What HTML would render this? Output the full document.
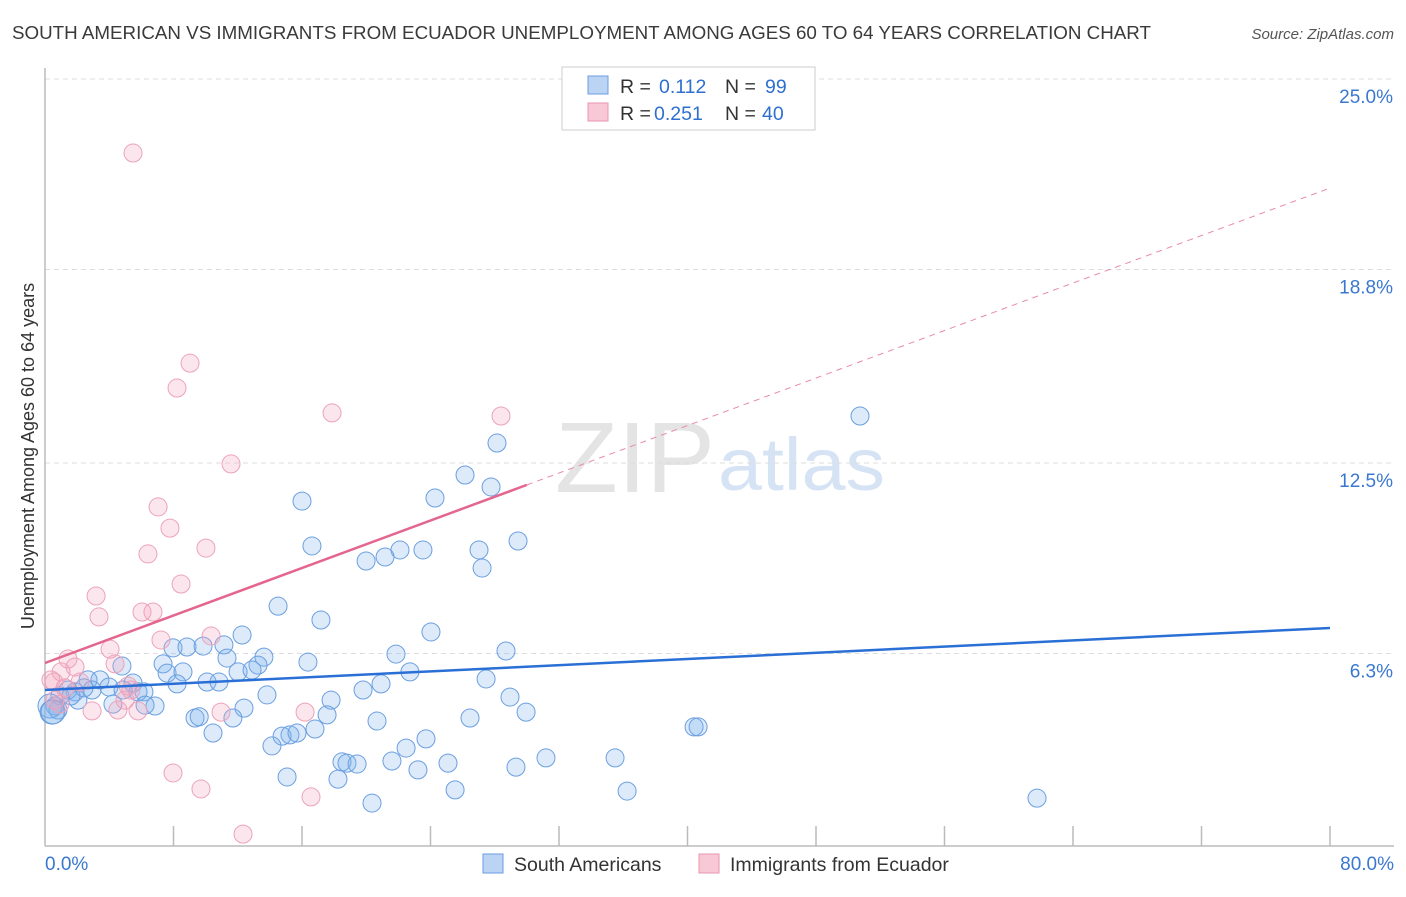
<!DOCTYPE html>
<html><head><meta charset="utf-8"><style>
body{margin:0;background:#fff;font-family:"Liberation Sans",sans-serif;}
svg text{font-family:"Liberation Sans",sans-serif;}
</style></head><body>
<svg id="chart" width="1406" height="892">
<text x="12" y="39" font-size="18.8" fill="#3a3a3a" textLength="1139" lengthAdjust="spacingAndGlyphs">SOUTH AMERICAN VS IMMIGRANTS FROM ECUADOR UNEMPLOYMENT AMONG AGES 60 TO 64 YEARS CORRELATION CHART</text>
<text x="1394" y="39" font-size="15" fill="#555" font-style="italic" text-anchor="end">Source: ZipAtlas.com</text>
<text x="555" y="492" font-size="100" fill="#e4e4e4" textLength="160" lengthAdjust="spacingAndGlyphs" font-family="Liberation Serif">ZIP</text>
<text x="718" y="490" font-size="74" fill="#d5e3f4" textLength="167" lengthAdjust="spacingAndGlyphs">atlas</text>
<text transform="translate(34,456) rotate(-90)" font-size="18" fill="#333" text-anchor="middle">Unemployment Among Ages 60 to 64 years</text>
<g id="grid"></g><g id="axes"></g><g id="pts"></g><g id="lines"></g>
<g>
<rect x="562" y="67" width="253" height="63" fill="#fff" stroke="#ccc"/>
<rect x="588" y="76" width="20" height="18" fill="#bcd4f4" stroke="#6a9be0"/>
<rect x="588" y="103" width="20" height="18" fill="#f8c8d6" stroke="#e896ae"/>
<text x="620" y="93" font-size="19.5" fill="#333">R = <tspan x="659" fill="#2f6fd0">0.112</tspan><tspan x="725">N = </tspan><tspan x="765" fill="#2f6fd0">99</tspan></text>
<text x="620" y="120" font-size="19.5" fill="#333">R = <tspan x="654" fill="#2f6fd0">0.251</tspan><tspan x="725">N = </tspan><tspan x="762" fill="#2f6fd0">40</tspan></text>
</g>
<g>
<rect x="483" y="854" width="20" height="19" fill="#bcd4f4" stroke="#6a9be0"/>
<text x="514" y="871" font-size="19.5" fill="#333">South Americans</text>
<rect x="699" y="854" width="20" height="19" fill="#f8c8d6" stroke="#e896ae"/>
<text x="730" y="871" font-size="19.5" fill="#333">Immigrants from Ecuador</text>
</g>
</svg>
<script>
const yTicks=[25.0,18.8,12.5,6.3];
const yTickLabels=["25.0%","18.8%","12.5%","6.3%"];
const xEnds=["0.0%","80.0%"];
const blueX=[50.74,28.14,26.15,27.77,24.28,16.00,29.45,16.62,22.10,23.53,27.02,21.17,19.99,27.21,14.51,17.18,24.03,12.27,11.14,7.97,8.84,9.84,28.70,21.85,13.63,16.37,7.35,11.33,13.26,4.79,22.72,7.60,8.59,12.02,12.89,27.46,20.92,8.22,10.09,10.83,5.48,3.42,2.68,3.98,19.80,13.82,17.81,28.95,6.16,5.79,4.86,1.87,1.43,0.93,2.05,6.85,6.23,4.23,12.39,29.95,17.56,26.46,9.34,9.60,20.67,11.70,40.41,40.66,0.62,0.44,16.81,10.46,15.25,14.76,15.69,23.72,14.13,22.48,31.19,35.49,18.49,18.80,19.43,21.60,25.09,29.32,23.22,15.07,18.24,36.24,25.53,20.36,61.76,0.81,0.31,2.93,1.62,2.43,0.5];
const blueY=[14.03,13.15,12.11,11.72,11.36,11.26,9.96,9.80,9.67,9.67,9.67,9.44,9.31,9.08,7.84,7.39,7.00,6.90,6.58,6.48,6.51,6.54,6.38,6.28,6.18,6.02,5.96,6.15,5.92,5.89,5.70,5.66,5.70,5.70,5.76,5.47,5.31,5.31,5.37,5.37,5.34,5.44,5.44,5.21,5.11,4.95,4.78,4.88,5.05,5.05,5.11,5.05,5.11,4.92,4.78,4.59,4.62,4.65,4.52,4.39,4.30,4.20,4.20,4.24,4.10,4.20,3.91,3.91,4.59,4.39,3.84,3.71,3.65,3.61,3.71,3.52,3.29,3.22,2.90,2.90,2.77,2.73,2.70,2.80,2.73,2.60,2.51,2.28,2.21,1.82,1.86,1.43,1.59,4.46,4.59,5.11,4.92,5.18,4.40];
const pinkX=[5.48,9.03,8.22,28.39,17.87,11.58,7.04,7.78,10.02,6.41,8.47,3.18,3.36,6.04,6.72,7.22,10.34,4.05,1.43,1.87,1.00,4.36,0.37,0.56,1.25,2.18,5.17,5.35,4.98,4.54,5.79,2.93,16.19,10.96,7.97,9.71,16.56,12.33,0.62,0.93];
const pinkY=[22.59,15.75,14.94,14.03,14.13,12.47,11.07,10.38,9.73,9.54,8.56,8.17,7.49,7.65,7.65,6.74,6.87,6.44,6.12,5.86,5.70,5.96,5.44,5.37,5.18,5.37,5.24,5.11,4.78,4.46,4.43,4.43,4.39,4.39,2.41,1.89,1.63,0.42,4.78,4.65];
const blueTrend=[5.11,7.13];
const pinkTrend=[5.99,21.45];
const pinkSolidEnd=30.0;

const NS="http://www.w3.org/2000/svg";
const X0=45,X1=1330,Y0=847;
function sx(v){return X0+(v/80)*(X1-X0);}
function sy(v){return Y0-v*(192/6.25);}
function mk(tag,attrs,parent){const e=document.createElementNS(NS,tag);for(const k in attrs)e.setAttribute(k,attrs[k]);parent.appendChild(e);return e;}
const grid=document.getElementById('grid'),axes=document.getElementById('axes'),pts=document.getElementById('pts'),lines=document.getElementById('lines');
yTicks.forEach((t,i)=>{
  const l=mk('line',{x1:X0,x2:1394,y1:sy(t),y2:sy(t),stroke:'#ddd','stroke-dasharray':'5,4'},grid);
  
  
  const tx=mk('text',{x:1393,y:sy(t)+24,'font-size':19,fill:'#3a78d0','text-anchor':'end'},grid);
  tx.textContent=yTickLabels[i];
  
  
});
const ya=mk('line',{x1:X0,x2:X0,y1:68,y2:846,stroke:'#bbb','stroke-width':1.5},axes);


const xa=mk('line',{x1:X0,x2:1394,y1:846,y2:846,stroke:'#bbb','stroke-width':1.5},axes);


for(let k=1;k<=10;k++){
  const t=mk('line',{x1:sx(k*8),x2:sx(k*8),y1:826,y2:846,stroke:'#bbb','stroke-width':1.5},axes);
  
  
}
[[0,'start',45],[80,'end',1394]].forEach((d,i)=>{
  const tx=mk('text',{x:d[2],y:870,'font-size':19,fill:'#3a78d0','text-anchor':d[1]},axes);
  tx.textContent=xEnds[i];
  
  
});
function dots(xs,ys,fill,stroke,name){
  xs.forEach((v,i)=>{
    const big=(v<0.6&&ys[i]>4.3&&ys[i]<4.7);
    const c=mk('circle',{cx:sx(v),cy:sy(ys[i]),r:big?12:9,fill:fill,stroke:stroke,'stroke-width':1},pts);
    
    
  });
}
dots(blueX,blueY,'rgba(130,178,238,0.28)','#6b9fe0','south-american-point');
dots(pinkX,pinkY,'rgba(244,165,192,0.28)','#eca3ba','ecuador-point');
const bl=mk('line',{x1:sx(0),y1:sy(blueTrend[0]),x2:sx(80),y2:sy(blueTrend[1]),stroke:'#2a6fd6','stroke-width':2.5},lines);


const pm=pinkTrend[0]+(pinkTrend[1]-pinkTrend[0])*pinkSolidEnd/80;
const pl=mk('line',{x1:sx(0),y1:sy(pinkTrend[0]),x2:sx(pinkSolidEnd),y2:sy(pm),stroke:'#e4668e','stroke-width':2.5},lines);


const pd=mk('line',{x1:sx(pinkSolidEnd),y1:sy(pm),x2:sx(80),y2:sy(pinkTrend[1]),stroke:'#e98aa8','stroke-width':1,'stroke-dasharray':'6,5'},lines);


</script>
</body></html>
